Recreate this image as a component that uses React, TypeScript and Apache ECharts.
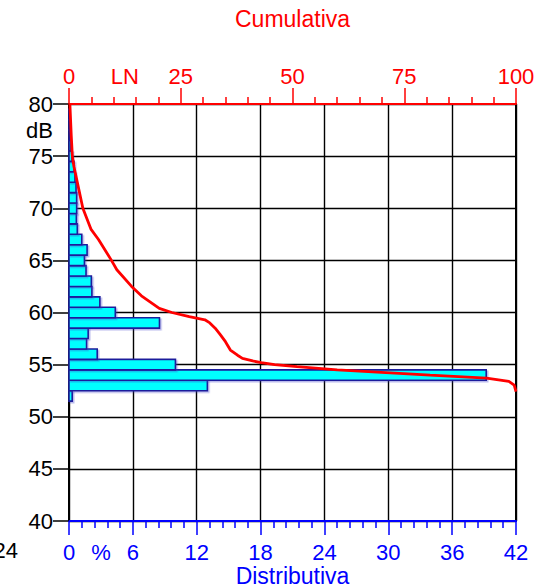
import React, { useEffect, useRef } from "react";
import * as echarts from "echarts";

// Distribution: level (dB, bar centre) and percentage
const levels = [52, 53, 54, 55, 56, 57, 58, 59, 60, 61, 62, 63, 64, 65, 66, 67, 68, 69, 70, 71, 72, 73, 74, 75, 76, 77, 78, 79];
const distribution = [0.3, 13.0, 39.2, 10.0, 2.65, 1.65, 1.8, 8.5, 4.35, 2.9, 2.15, 2.1, 1.6, 1.45, 1.7, 1.2, 0.78, 0.69, 0.72, 0.72, 0.66, 0.56, 0.47, 0.28, 0.18, 0.12, 0.08, 0.05];

// Cumulative curve: level (dB) and cumulative percentage
const cumLevels = [80, 77, 75, 74, 72, 70, 68, 67, 65, 64.1, 62.5, 61.6, 60.4, 60, 59.6, 59.3, 59.0, 58.5, 57.9, 57.2, 56.4, 55.9, 55.6, 55.35, 55.2, 55.0, 54.8, 54.5, 54.0, 53.7, 53.4, 53.04, 52.4];
const cumValues = [0.2, 0.5, 0.75, 1.1, 2.1, 3.1, 4.9, 6.6, 9.5, 10.7, 14.0, 16.2, 20.2, 23.0, 26.9, 30.4, 31.5, 32.7, 33.8, 35.0, 36.1, 37.7, 38.8, 41.1, 43.0, 46.0, 51.0, 60.0, 80.8, 93.4, 98.4, 99.6, 100];

const yTicks = [40, 45, 50, 55, 60, 65, 70, 75, 80];
const bottomTicks = [0, 6, 12, 18, 24, 30, 36, 42];
const topTicks = [0, 25, 50, 75, 100];

const FONT = "'Liberation Sans', Arial, sans-serif";
const LABEL_SIZE = 22;
const TITLE_SIZE = 23;
const RED = "#FF0000";
const BLUE = "#0000FF";

export default function App() {
  const ref = useRef<HTMLDivElement>(null);

  useEffect(() => {
    if (!ref.current) return;
    const chart = echarts.init(ref.current, null, { renderer: "svg" });
    const bottomMargin = 20;
    const topMargin = 17;
    const option: any = {
      animation: false,
      backgroundColor: "#FFFFFF",
      textStyle: { fontFamily: FONT },
      grid: {
        left: 69,
        right: 22,
        top: 104,
        bottom: 66,
        containLabel: false,
        outerBoundsMode: "none",
        show: true,
        borderColor: "#000000",
        borderWidth: 2,
        backgroundColor: "transparent",
      },
      xAxis: [
        {
          type: "value",
          position: "bottom",
          min: bottomTicks[0],
          max: bottomTicks[bottomTicks.length - 1],
          interval: bottomTicks[1] - bottomTicks[0],
          name: "Distributiva",
          nameLocation: "middle",
          nameGap: 43,
          nameMoveOverlap: false,
          nameTextStyle: { color: BLUE, fontSize: TITLE_SIZE, fontFamily: FONT, verticalAlign: "top" },
          axisLine: { show: true, onZero: false, lineStyle: { color: BLUE, width: 2 } },
          axisTick: { show: true, inside: false, length: 14, lineStyle: { color: BLUE, width: 1.5 } },
          minorTick: { show: true, splitNumber: 5, length: 7, lineStyle: { color: BLUE, width: 1.5 } },
          axisLabel: { color: BLUE, fontSize: LABEL_SIZE, fontFamily: FONT, margin: bottomMargin },
          splitLine: { show: true, lineStyle: { color: "#000000", width: 1.4 } },
          minorSplitLine: { show: false },
        },
        {
          type: "value",
          position: "top",
          min: topTicks[0],
          max: topTicks[topTicks.length - 1],
          interval: topTicks[1] - topTicks[0],
          name: "Cumulativa",
          nameLocation: "middle",
          nameGap: 74,
          nameTextStyle: { color: RED, fontSize: TITLE_SIZE, fontFamily: FONT },
          axisLine: { show: true, onZero: false, lineStyle: { color: RED, width: 2 } },
          axisTick: { show: true, inside: false, length: 16, lineStyle: { color: RED, width: 1.5 } },
          minorTick: { show: true, splitNumber: 5, length: 7, lineStyle: { color: RED, width: 1.5 } },
          axisLabel: { color: RED, fontSize: LABEL_SIZE, fontFamily: FONT, margin: topMargin },
          splitLine: { show: false },
        },
      ],
      yAxis: [
        {
          type: "value",
          min: yTicks[0],
          max: yTicks[yTicks.length - 1],
          interval: yTicks[1] - yTicks[0],
          axisLine: { show: true, onZero: false, lineStyle: { color: "#000000", width: 2 } },
          axisTick: { show: true, inside: false, length: 16, lineStyle: { color: "#000000", width: 1.5 } },
          axisLabel: { color: "#000000", fontSize: LABEL_SIZE, fontFamily: FONT, margin: 16 },
          splitLine: { show: true, lineStyle: { color: "#000000", width: 1.4 } },
        },
      ],
      series: [
        {
          type: "custom",
          name: "Distributiva",
          xAxisIndex: 0,
          yAxisIndex: 0,
          encode: { x: 0, y: 1 },
          data: levels.map((lv, i) => [distribution[i], lv]),
          renderItem: (params: any, api: any) => {
            const pct = api.value(0);
            const lv = api.value(1);
            const p0 = api.coord([0, lv + 0.5]);
            const p1 = api.coord([pct, lv - 0.5]);
            return {
              type: "rect",
              shape: { x: p0[0], y: p0[1], width: p1[0] - p0[0], height: p1[1] - p0[1] },
              style: {
                fill: "#00FFFF",
                stroke: "#1E1E9C",
                lineWidth: 1.6,
                shadowColor: "rgba(60,60,200,0.35)",
                shadowOffsetX: 1.5,
                shadowOffsetY: 1.5,
                shadowBlur: 0,
              },
            };
          },
          z: 3,
        },
        {
          type: "line",
          name: "Cumulativa",
          xAxisIndex: 1,
          yAxisIndex: 0,
          data: cumLevels.map((lv, i) => [cumValues[i], lv]),
          showSymbol: false,
          symbol: "none",
          smooth: false,
          lineStyle: { color: RED, width: 2.8 },
          z: 5,
        },
      ],
    };
    chart.setOption(option);

    const pctX = chart.convertToPixel({ xAxisIndex: 0 }, 3) as number;
    const lnX = chart.convertToPixel({ xAxisIndex: 1 }, 12.5) as number;
    const yBottom = chart.convertToPixel({ yAxisIndex: 0 }, yTicks[0]) as number;
    const yTop = chart.convertToPixel({ yAxisIndex: 0 }, yTicks[yTicks.length - 1]) as number;
    const dbY = chart.convertToPixel({ yAxisIndex: 0 }, 77.5) as number;
    const leftX = chart.convertToPixel({ xAxisIndex: 0 }, 0) as number;

    chart.setOption({
      graphic: [
        {
          type: "text",
          x: pctX,
          y: yBottom + bottomMargin,
          style: { text: "%", fill: BLUE, font: `${LABEL_SIZE}px ${FONT}`, align: "center", verticalAlign: "top" },
        },
        {
          type: "text",
          x: lnX,
          y: yTop - topMargin,
          style: { text: "LN", fill: RED, font: `${LABEL_SIZE}px ${FONT}`, align: "center", verticalAlign: "bottom" },
        },
        {
          type: "text",
          x: leftX - 16,
          y: dbY,
          style: { text: "dB", fill: "#000000", font: `${LABEL_SIZE}px ${FONT}`, align: "right", verticalAlign: "middle" },
        },
        {
          type: "text",
          x: 18,
          y: 550,
          style: { text: "24", fill: "#000000", font: `${LABEL_SIZE}px ${FONT}`, align: "right", verticalAlign: "middle" },
        },
      ],
    });

    return () => chart.dispose();
  }, []);

  return (
    <div
      ref={ref}
      style={{ position: "fixed", left: 0, top: 0, width: 538, height: 587, background: "#FFFFFF" }}
    />
  );
}
